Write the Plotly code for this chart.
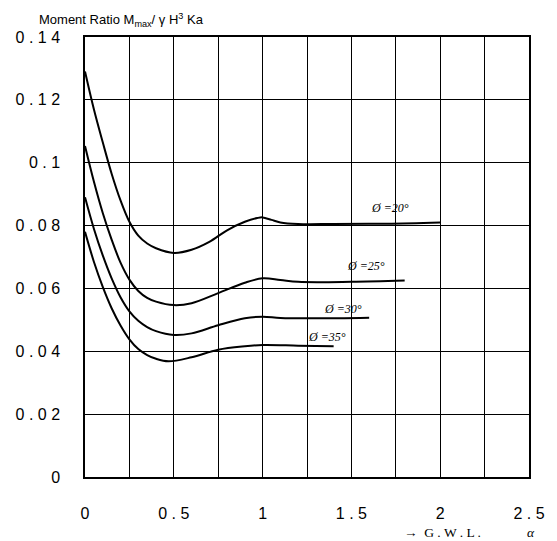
import plotly.graph_objects as go

# Curve data: (alpha, moment ratio)
x_20 = [0, 0.05, 0.1, 0.15, 0.2, 0.25, 0.3, 0.35, 0.4, 0.5, 0.6, 0.7, 0.8, 0.9, 0.97, 1.0, 1.05, 1.1, 1.2, 1.4, 1.7, 2.0]
y_20 = [0.129, 0.117, 0.1065, 0.0965, 0.088, 0.0812, 0.0768, 0.0743, 0.0728, 0.0713, 0.0723, 0.0748, 0.0785, 0.0812, 0.0824, 0.0826, 0.0818, 0.081, 0.0805, 0.0805, 0.0806, 0.081]

x_25 = [0, 0.05, 0.1, 0.15, 0.2, 0.25, 0.3, 0.35, 0.4, 0.5, 0.6, 0.75, 0.9, 1.0, 1.1, 1.2, 1.5, 1.8]
y_25 = [0.1053, 0.094, 0.084, 0.0755, 0.0682, 0.0628, 0.0592, 0.057, 0.0558, 0.0547, 0.0553, 0.0585, 0.0618, 0.0632, 0.0627, 0.0621, 0.0621, 0.0625]

x_30 = [0, 0.05, 0.1, 0.15, 0.2, 0.25, 0.3, 0.35, 0.4, 0.5, 0.6, 0.75, 0.9, 1.0, 1.1, 1.3, 1.6]
y_30 = [0.089, 0.079, 0.0705, 0.0632, 0.0572, 0.0527, 0.0497, 0.0477, 0.0464, 0.0452, 0.0457, 0.0483, 0.0505, 0.051, 0.0506, 0.0505, 0.0507]

x_35 = [0, 0.05, 0.1, 0.15, 0.2, 0.25, 0.3, 0.35, 0.4, 0.47, 0.6, 0.75, 0.9, 1.0, 1.2, 1.4]
y_35 = [0.078, 0.0685, 0.0605, 0.0537, 0.0482, 0.0438, 0.0407, 0.0388, 0.0376, 0.0368, 0.0381, 0.0405, 0.0416, 0.042, 0.0418, 0.0416]

curve_labels = ["Ø =20°", "Ø =25°", "Ø =30°", "Ø =35°"]
label_x = [1.72, 1.58, 1.45, 1.36]
label_y = [0.0856, 0.0671, 0.0535, 0.0445]

x_tickvals = [0, 0.5, 1.0, 1.5, 2.0, 2.5]
x_ticktext = ["0", "0 . 5", "1", "1 . 5", "2", "2 . 5"]
y_tickvals = [0, 0.02, 0.04, 0.06, 0.08, 0.1, 0.12, 0.14]
y_ticktext = ["0", "0 . 0 2", "0 . 0 4", "0 . 0 6", "0 . 0 8", "0 . 1", "0 . 1 2", "0 . 1 4"]

fig = go.Figure()
for xs, ys in [(x_20, y_20), (x_25, y_25), (x_30, y_30), (x_35, y_35)]:
    fig.add_trace(go.Scatter(x=xs, y=ys, mode="lines",
                             line=dict(color="black", width=2, shape="spline", smoothing=1.0),
                             showlegend=False, hoverinfo="skip"))

for t, lx, ly in zip(curve_labels, label_x, label_y):
    fig.add_annotation(x=lx, y=ly, xref="x", yref="y", text="<i>" + t + "</i>",
                       showarrow=False, font=dict(family="Liberation Serif", size=12, color="black"))

fig.add_annotation(x=-0.107, y=1.038, xref="paper", yref="paper", xanchor="left", yanchor="middle",
                   text="Moment Ratio M<sub>max</sub>/ γ H<sup>3</sup> Ka", showarrow=False,
                   font=dict(family="Liberation Sans", size=13, color="black"))
fig.add_annotation(x=0.715, y=-0.125, xref="paper", yref="paper", xanchor="left", yanchor="middle",
                   text="→  G . W . L .", showarrow=False,
                   font=dict(family="Liberation Serif", size=13.5, color="black"))
fig.add_annotation(x=1.005, y=-0.125, xref="paper", yref="paper", xanchor="center", yanchor="middle",
                   text="<i>α</i>", showarrow=False,
                   font=dict(family="Liberation Serif", size=13.5, color="black"))

axis_common = dict(showline=True, linecolor="black", linewidth=1.5, mirror=True,
                   showgrid=True, gridcolor="black", gridwidth=1.3, zeroline=False,
                   ticks="", tickfont=dict(family="Liberation Sans", size=16, color="black"))

fig.update_xaxes(range=[0, 2.5], tickmode="array", tickvals=x_tickvals, ticktext=x_ticktext,
                 ticklabelstandoff=21,
                 minor=dict(dtick=0.25, tick0=0, showgrid=True, gridcolor="black", gridwidth=1.3, ticks=""),
                 **axis_common)
fig.update_yaxes(range=[0, 0.14], tickmode="array", tickvals=y_tickvals, ticktext=y_ticktext,
                 ticklabelstandoff=20, **axis_common)

fig.update_layout(width=557, height=541, margin=dict(l=85, r=22, t=37, b=64),
                  plot_bgcolor="white", paper_bgcolor="white")

fig.write_html("out.html")
